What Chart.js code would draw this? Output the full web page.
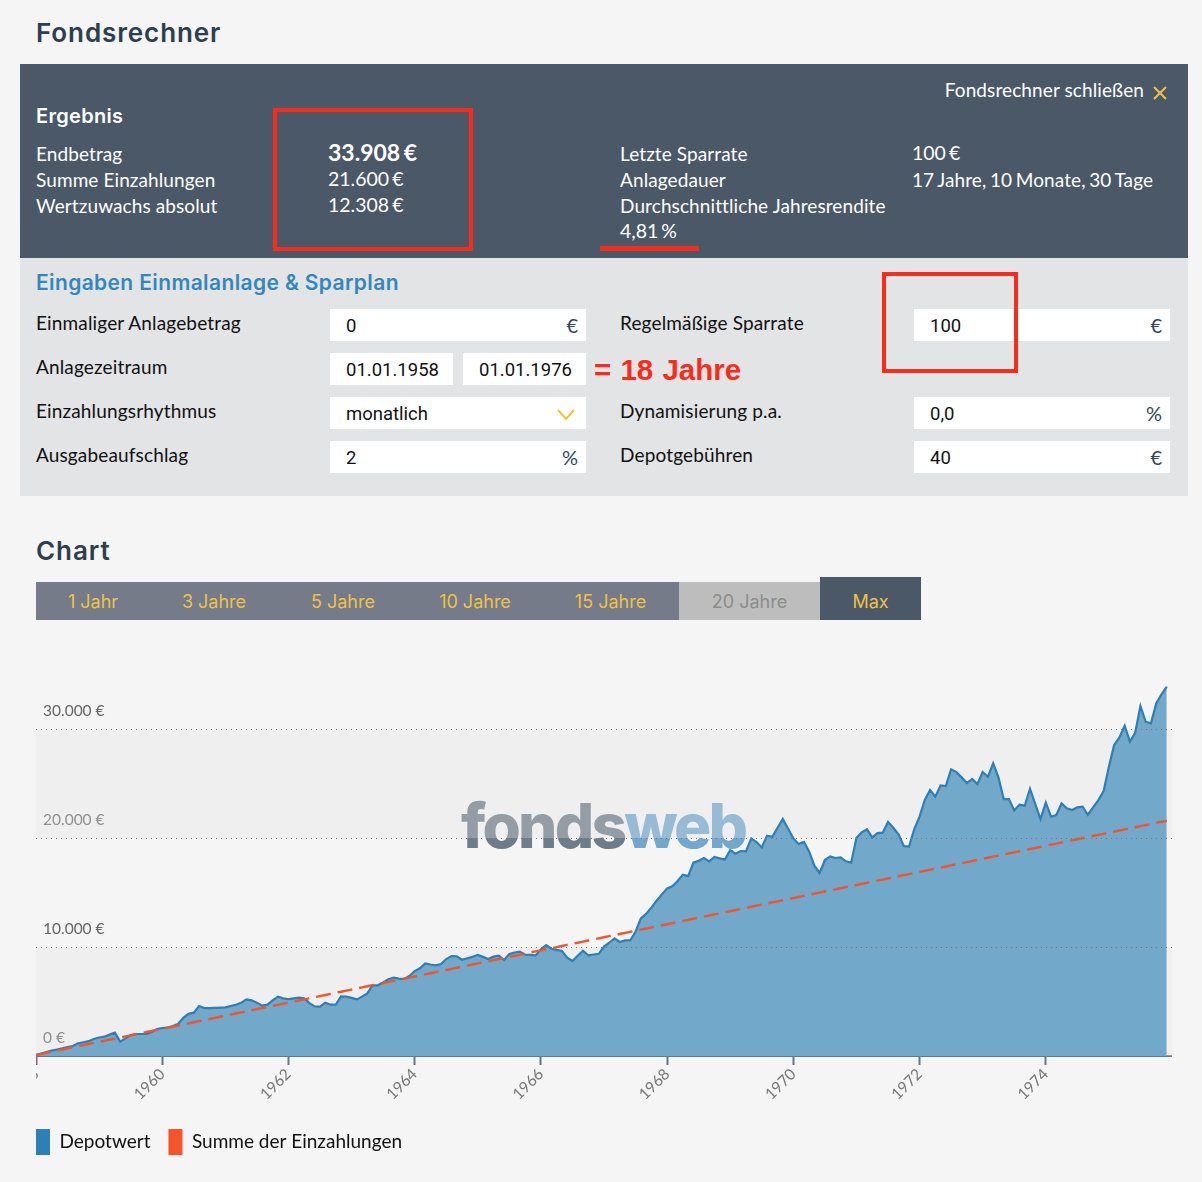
<!DOCTYPE html>
<html lang="de">
<head>
<meta charset="utf-8">
<title>Fondsrechner</title>
<script src="https://cdn.jsdelivr.net/npm/chart.js@4"></script>
<style>
html,body{margin:0;padding:0;background:#f5f5f5;width:1202px;height:1182px;overflow:hidden}
body{position:relative;font-family:Lato,sans-serif;color:#111}
.a{position:absolute;white-space:nowrap}
.t{position:absolute;white-space:nowrap;transform:translateY(-50%);line-height:1}
.h{font-family:Inter,sans-serif;font-weight:600;color:#2c3e50;font-size:26px;letter-spacing:.9px}
.w{color:#fff;font-size:19px;letter-spacing:.1px}
.n{font-size:19.5px;word-spacing:-2px;letter-spacing:0}
.l{color:#111;font-size:19px;letter-spacing:.15px}
.box{position:absolute;background:#fff;height:32px}
.v{position:absolute;white-space:nowrap;transform:translateY(-50%);line-height:1;font-family:Roboto,sans-serif;font-size:18.5px;color:#111}
.u{position:absolute;white-space:nowrap;transform:translateY(-50%);line-height:1;font-family:Lato,sans-serif;font-size:20px;color:#33475b;text-align:right}
.red{position:absolute;box-sizing:border-box;border:4px solid #f92c1c}
.tab{position:absolute;top:582px;height:38px;line-height:40px;text-align:center;font-family:Inter,sans-serif;font-size:18px;color:#efc246;background:#757b88}
#logo{position:absolute;left:461px;top:788px;font-family:Inter,sans-serif;font-weight:800;font-size:62px;line-height:76px;letter-spacing:-2.8px;z-index:0}
#wrap{position:absolute;left:36px;top:653px;width:1136px;height:512px;z-index:1}
</style>
</head>
<body>
<div class="t h" style="left:36px;top:33px">Fondsrechner</div>
<div class="a" style="left:20px;top:64px;width:1168px;height:194px;background:#4b5868"></div>
<div class="a" style="left:20px;top:258px;width:1168px;height:238px;background:#e3e4e6"></div>

<div class="t w" style="left:36px;top:116px;font-family:Inter,sans-serif;font-weight:600;font-size:20px;letter-spacing:.3px">Ergebnis</div>
<div class="t w" style="left:36px;top:153px">Endbetrag</div>
<div class="t w" style="left:36px;top:179px">Summe Einzahlungen</div>
<div class="t w" style="left:36px;top:205px">Wertzuwachs absolut</div>
<div class="t w n" style="left:328px;top:152px;font-weight:700;font-size:23px;word-spacing:-2px">33.908 €</div>
<div class="t w n" style="left:328px;top:179px">21.600 €</div>
<div class="t w n" style="left:328px;top:205px">12.308 €</div>
<div class="t w" style="left:620px;top:153px">Letzte Sparrate</div>
<div class="t w" style="left:620px;top:179px">Anlagedauer</div>
<div class="t w" style="left:620px;top:205px">Durchschnittliche Jahresrendite</div>
<div class="t w n" style="left:620px;top:231px">4,81 %</div>
<div class="t w n" style="left:912px;top:153px">100 €</div>
<div class="t w" style="left:912px;top:179px;word-spacing:-1.4px">17 Jahre, 10 Monate, 30 Tage</div>
<div class="t w" style="right:58px;top:89px">Fondsrechner schließen</div>
<svg class="a" style="left:1152px;top:85px" width="16" height="16" viewBox="0 0 16 16"><path d="M2 2 L14 14 M14 2 L2 14" stroke="#efc246" stroke-width="2" fill="none"/></svg>

<div class="t" style="left:36px;top:282px;font-family:Inter,sans-serif;font-weight:600;font-size:21px;letter-spacing:.37px;color:#3387bd">Eingaben Einmalanlage &amp; Sparplan</div>

<div class="t l" style="left:36px;top:322px">Einmaliger Anlagebetrag</div>
<div class="t l" style="left:36px;top:366px">Anlagezeitraum</div>
<div class="t l" style="left:36px;top:410px">Einzahlungsrhythmus</div>
<div class="t l" style="left:36px;top:454px">Ausgabeaufschlag</div>
<div class="t l" style="left:620px;top:322px">Regelmäßige Sparrate</div>
<div class="t l" style="left:620px;top:410px">Dynamisierung p.a.</div>
<div class="t l" style="left:620px;top:454px">Depotgebühren</div>

<div class="box" style="left:330px;top:309px;width:256px"></div>
<div class="box" style="left:330px;top:353px;width:123px"></div>
<div class="box" style="left:463px;top:353px;width:123px"></div>
<div class="box" style="left:330px;top:397px;width:256px"></div>
<div class="box" style="left:330px;top:441px;width:256px"></div>
<div class="box" style="left:914px;top:309px;width:256px"></div>
<div class="box" style="left:914px;top:397px;width:256px"></div>
<div class="box" style="left:914px;top:441px;width:256px"></div>

<div class="v" style="left:346px;top:326px">0</div>
<div class="v" style="left:346px;top:370px">01.01.1958</div>
<div class="v" style="left:479px;top:370px">01.01.1976</div>
<div class="v" style="left:346px;top:414px">monatlich</div>
<div class="v" style="left:346px;top:458px">2</div>
<div class="v" style="left:930px;top:326px">100</div>
<div class="v" style="left:930px;top:414px">0,0</div>
<div class="v" style="left:930px;top:458px">40</div>
<div class="u" style="right:624px;top:325px">€</div>
<div class="u" style="right:624px;top:457px">%</div>
<div class="u" style="right:40px;top:325px">€</div>
<div class="u" style="right:40px;top:413px">%</div>
<div class="u" style="right:40px;top:457px">€</div>
<svg class="a" style="left:556px;top:408px" width="20" height="13" viewBox="0 0 20 13"><path d="M2 2 L10 11 L18 2" stroke="#efc246" stroke-width="2" fill="none"/></svg>

<div class="t" style="left:594px;top:370px;font-family:'Liberation Sans',sans-serif;font-weight:700;font-size:29.5px;color:#f92c1c;word-spacing:1px">= 18 Jahre</div>

<div class="red" style="left:273px;top:108px;width:200px;height:143px"></div>
<div class="a" style="left:600px;top:246px;width:99px;height:5px;background:#f92c1c"></div>
<div class="red" style="left:882px;top:272px;width:136px;height:101px"></div>

<div class="t h" style="left:36px;top:551px">Chart</div>
<div class="tab" style="left:36px;width:114px">1 Jahr</div>
<div class="tab" style="left:150px;width:128px">3 Jahre</div>
<div class="tab" style="left:278px;width:130px">5 Jahre</div>
<div class="tab" style="left:408px;width:134px">10 Jahre</div>
<div class="tab" style="left:542px;width:137px">15 Jahre</div>
<div class="tab" style="left:679px;width:141px;background:#bdbdbd;color:#8c8c8c">20 Jahre</div>
<div class="tab" style="left:820px;width:101px;top:577px;height:43px;line-height:50px;background:#4b5868">Max</div>

<div id="logo"><span style="color:#6e7b88">fonds</span><span style="color:#72a8cd">web</span></div>
<div id="wrap"><canvas id="c" width="1136" height="512" style="display:block"></canvas></div>

<script>
const startYear = 1958;
const endYear = 1976;
const seriesNames = ["Depotwert", "Summe der Einzahlungen"];
const depotwert = [
100,230,360,490,600,700,810,920,1160,1260,1360,1560,
1700,1775,1960,2140,1315,1620,1930,2020,2020,2020,2200,2470,
2570,2600,2750,2940,3500,3870,3980,4590,4400,4400,4420,4440,
4470,4590,4710,4880,5200,5110,4900,4620,4710,5100,5450,5290,
5230,5290,5350,5290,4850,4550,4530,4900,4710,4710,5480,5450,
5340,5200,5450,5750,6490,6490,6750,7040,7190,7100,7070,7350,
7800,8050,8500,8400,8320,8450,8900,9180,9150,8840,8970,9100,
9270,9100,8900,9120,9210,8810,9360,9500,9580,9300,9290,9240,
9790,10190,9850,9750,9640,9030,8720,9200,9670,9240,9320,9380,
10040,10400,10800,10470,10620,10620,11410,12640,13040,13620,14260,14840,
15390,15580,16070,16650,16520,17750,17930,18180,17870,18270,18150,18050,
18910,18570,18820,18790,19980,19650,19150,20230,20130,20960,21760,20870,
19980,19460,19650,18790,17470,16800,17990,18330,18180,18240,17870,17750,
20040,20530,20810,20070,20470,20500,21480,20960,20350,19280,19220,20840,
21970,23500,24420,23810,24850,24790,26320,26070,25580,25060,25430,24970,
26070,25640,26870,25580,23590,23590,22550,23070,22980,24540,23130,21760,
23260,21970,22120,23190,22740,22580,22830,22890,22150,22830,23500,24330,
26560,28550,29250,30320,28860,29680,32130,30690,30540,32370,33200,33908
];
const einzahlungen = [
100,200,300,400,500,600,700,800,900,1000,1100,1200,
1300,1400,1500,1600,1700,1800,1900,2000,2100,2200,2300,2400,
2500,2600,2700,2800,2900,3000,3100,3200,3300,3400,3500,3600,
3700,3800,3900,4000,4100,4200,4300,4400,4500,4600,4700,4800,
4900,5000,5100,5200,5300,5400,5500,5600,5700,5800,5900,6000,
6100,6200,6300,6400,6500,6600,6700,6800,6900,7000,7100,7200,
7300,7400,7500,7600,7700,7800,7900,8000,8100,8200,8300,8400,
8500,8600,8700,8800,8900,9000,9100,9200,9300,9400,9500,9600,
9700,9800,9900,10000,10100,10200,10300,10400,10500,10600,10700,10800,
10900,11000,11100,11200,11300,11400,11500,11600,11700,11800,11900,12000,
12100,12200,12300,12400,12500,12600,12700,12800,12900,13000,13100,13200,
13300,13400,13500,13600,13700,13800,13900,14000,14100,14200,14300,14400,
14500,14600,14700,14800,14900,15000,15100,15200,15300,15400,15500,15600,
15700,15800,15900,16000,16100,16200,16300,16400,16500,16600,16700,16800,
16900,17000,17100,17200,17300,17400,17500,17600,17700,17800,17900,18000,
18100,18200,18300,18400,18500,18600,18700,18800,18900,19000,19100,19200,
19300,19400,19500,19600,19700,19800,19900,20000,20100,20200,20300,20400,
20500,20600,20700,20800,20900,21000,21100,21200,21300,21400,21500,21600
];
const bandRanges = [[0,10000],[20000,30000]];
const yTicks = [0,10000,20000,30000];

const monthPos = i => startYear + i / 12;
const toPoints = arr => arr.map((v, i) => ({x: monthPos(i), y: v}));

const bands = {
  id: 'bands',
  beforeDatasetsDraw(chart) {
    const {ctx, chartArea: a, scales: {y}} = chart;
    ctx.save();
    ctx.fillStyle = 'rgba(227,227,227,0.33)';
    bandRanges.forEach(([lo, hi]) => {
      const t = y.getPixelForValue(hi), b = y.getPixelForValue(lo);
      ctx.fillRect(a.left, t, a.right - a.left, b - t);
    });
    ctx.restore();
  }
};
const legendShift = {
  id: 'legendShift',
  afterLayout(chart) { chart.legend.left = -18; }
};

new Chart(document.getElementById('c'), {
  type: 'line',
  data: {
    datasets: [
      {label: seriesNames[0], data: toPoints(depotwert), borderColor: '#2e7fb5', borderWidth: 2.2,
       backgroundColor: '#72a8c9', fill: 'origin', pointRadius: 0, tension: 0, order: 2},
      {label: seriesNames[1], data: toPoints(einzahlungen), borderColor: '#f4532b', borderWidth: 2.4,
       borderDash: [15, 7], fill: false, pointRadius: 0, tension: 0, order: 1}
    ]
  },
  plugins: [bands, legendShift],
  options: {
    responsive: false,
    animation: false,
    devicePixelRatio: 1,
    layout: {padding: 0},
    plugins: {
      tooltip: {enabled: false},
      legend: {
        position: 'bottom', align: 'start',
        labels: {
          boxWidth: 14, boxHeight: 26, padding: 18, color: '#111',
          font: {family: 'Lato', size: 19},
          generateLabels: chart => chart.data.datasets.map((d, i) => ({
            text: d.label, fillStyle: d.borderColor, strokeStyle: d.borderColor,
            lineWidth: 0, datasetIndex: i, fontColor: '#111'
          }))
        }
      }
    },
    scales: {
      x: {
        type: 'linear', min: startYear, max: endYear,
        afterBuildTicks: s => { s.ticks = s.ticks.filter(t => t.value < endYear); },
        afterFit: s => { s.height = 55; s.paddingLeft = 0; s.paddingRight = 0; },
        ticks: {stepSize: 2, minRotation: 45, maxRotation: 45, padding: 0, color: '#777',
                font: {family: 'Lato', size: 15.5}, callback: v => String(v)},
        grid: {drawOnChartArea: false, drawTicks: true, tickLength: 9, tickWidth: 2, tickColor: '#6b7280'},
        border: {display: true, color: '#65778c', width: 2}
      },
      y: {
        min: 0, max: 37000,
        afterBuildTicks: s => { s.ticks = yTicks.map(v => ({value: v})); },
        afterFit: s => { s.width = 0; s.paddingTop = 0; s.paddingBottom = 0; },
        ticks: {mirror: true, padding: 7, labelOffset: -18, color: '#666',
                font: {family: 'Lato', size: 15.5},
                callback: v => v.toLocaleString('de-DE') + ' €'},
        grid: {z: 1, drawTicks: false, lineWidth: 1,
               color: c => c.tick && c.tick.value === 0 ? 'transparent' : '#777'},
        border: {display: false, dash: [1, 4]}
      }
    }
  }
});
</script>
</body>
</html>
